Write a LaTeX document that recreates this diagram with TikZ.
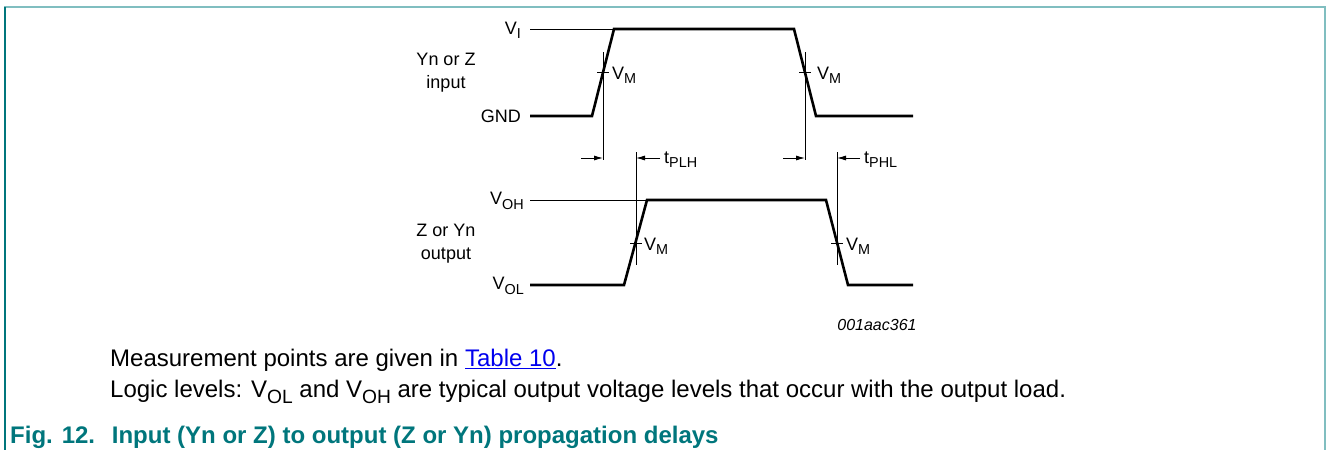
\documentclass[tikz,border=0pt]{standalone}
\usepackage{fontspec}
\setmainfont{Liberation Sans}
\usetikzlibrary{arrows.meta}
\definecolor{nxpteal}{RGB}{0,118,124}
\definecolor{nxplight}{RGB}{128,190,192}
\definecolor{linkblue}{RGB}{0,0,238}
\newcommand{\vsub}[1]{\raisebox{-0.24em}{\scalebox{0.8}{#1}}}

\begin{document}
\begin{tikzpicture}[x=1pt, y=-1pt,
  wave/.style={line width=2.6pt, line join=miter},
  thinline/.style={line width=0.8pt},
  delay/.style={thinline, -{Latex[length=9pt,width=5pt]}},
  lbl/.style={inner sep=0pt, font=\fontsize{18}{23}\selectfont},
  note/.style={inner sep=0pt, anchor=west, font=\fontsize{24}{28}\selectfont}]
\useasboundingbox (0,0) rectangle (1328,450);

% Frame
\draw[nxplight, line width=2pt] (4,7) -- (1325,7) -- (1325,450);
\draw[nxpteal, line width=1.5pt] (5,7) -- (5,450);

% Input waveform
\coordinate (inA) at (530,116);
\coordinate (inB) at (592,116);
\coordinate (inC) at (614,29);
\coordinate (inD) at (794,29);
\coordinate (inE) at (816,116);
\coordinate (inF) at (913,116);
\coordinate (viL) at (530,29);
\draw[thinline] (viL) -- (inC);
\draw[wave] (inA) -- (inB) -- (inC) -- (inD) -- (inE) -- (inF);

\node[lbl, anchor=east] (vi) at (521,30) {V\vsub{I}};
\node[lbl, anchor=east] (gnd) at (521,116) {GND};
\node[lbl, align=center] (inname) at (446,73) {Yn or Z\\input};

% Output waveform
\coordinate (outA) at (530,285);
\coordinate (outB) at (624,285);
\coordinate (outC) at (647,200);
\coordinate (outD) at (826,200);
\coordinate (outE) at (848,285);
\coordinate (outF) at (913,285);
\coordinate (vohL) at (530,200);
\draw[thinline] (vohL) -- (outC);
\draw[wave] (outA) -- (outB) -- (outC) -- (outD) -- (outE) -- (outF);

\node[lbl, anchor=east] (voh) at (524,201) {V\vsub{OH}};
\node[lbl, anchor=east] (vol) at (524,286) {V\vsub{OL}};
\node[lbl, align=center] (outname) at (446,244) {Z or Yn\\output};

% V_M markers
\coordinate (mRiseT) at (603,52);  \coordinate (mRiseB) at (603,160);
\coordinate (mFallT) at (805,52);  \coordinate (mFallB) at (805,160);
\coordinate (oRiseT) at (636,152); \coordinate (oRiseB) at (636,265);
\coordinate (oFallT) at (837,152); \coordinate (oFallB) at (837,265);
\draw[thinline] (mRiseT) -- (mRiseB);
\draw[thinline] (mFallT) -- (mFallB);
\draw[thinline] (oRiseT) -- (oRiseB);
\draw[thinline] (oFallT) -- (oFallB);
\draw[thinline] (597,72) -- (609,72);
\draw[thinline] (799,72) -- (811,72);
\draw[thinline] (630,243) -- (642,243);
\draw[thinline] (831,243) -- (843,243);

\node[lbl, anchor=west] (vm1) at (612,75) {V\vsub{M}};
\node[lbl, anchor=west] (vm2) at (817,75) {V\vsub{M}};
\node[lbl, anchor=west] (vm3) at (644,246) {V\vsub{M}};
\node[lbl, anchor=west] (vm4) at (846,246) {V\vsub{M}};

% Delay arrows
\coordinate (plhL) at (581,158); \coordinate (plhLe) at (603,158);
\coordinate (plhR) at (660,158); \coordinate (plhRe) at (636,158);
\coordinate (phlL) at (783,158); \coordinate (phlLe) at (805,158);
\coordinate (phlR) at (860,158); \coordinate (phlRe) at (837,158);
\draw[delay] (plhL) -- (plhLe);
\draw[delay] (plhR) -- (plhRe);
\draw[delay] (phlL) -- (phlLe);
\draw[delay] (phlR) -- (phlRe);
\node[lbl, anchor=west] (tplh) at (664,160) {t\vsub{PLH}};
\node[lbl, anchor=west] (tphl) at (864,160) {t\vsub{PHL}};

\node[inner sep=0pt, font=\itshape\fontsize{16}{19}\selectfont] (figid) at (877,325) {001aac361};

% Notes and caption
\node[note] (note1) at (110,360) {Measurement points are given in \textcolor{linkblue}{\underline{Table 10}}.};
\node[note] (note2) at (110,392) {Logic levels: V\vsub{OL} and V\vsub{OH} are typical output voltage levels that occur with the output load.};
\node[note, text=nxpteal, font=\bfseries\fontsize{24}{28}\selectfont] (caption) at (10,437) {Fig. 12.\hspace{0.7em}Input (Yn or Z) to output (Z or Yn) propagation delays};
\end{tikzpicture}
\end{document}
